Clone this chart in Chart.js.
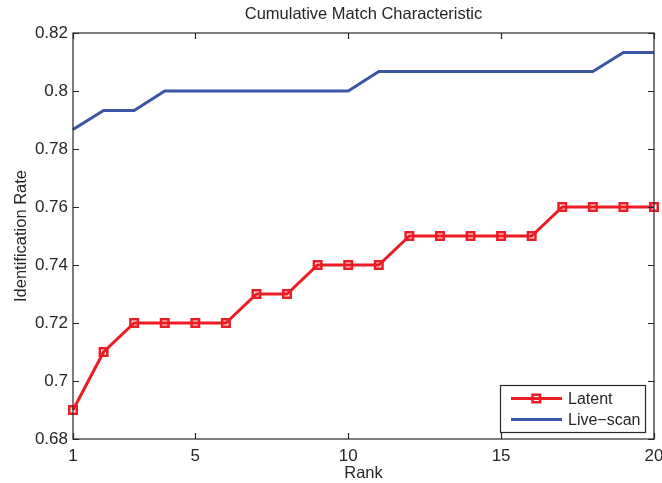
<!DOCTYPE html>
<html><head><meta charset="utf-8">
<script src="https://cdn.jsdelivr.net/npm/chart.js@4/dist/chart.umd.min.js"></script>
<style>html,body{margin:0;padding:0;background:#fff}#wrap{width:662px;height:483px;position:relative}</style>
</head><body><div id="wrap"><canvas id="c" width="662" height="483"></canvas></div>
<script>
const ranks = [1,2,3,4,5,6,7,8,9,10,11,12,13,14,15,16,17,18,19,20];
const latent = [0.69,0.71,0.72,0.72,0.72,0.72,0.73,0.73,0.74,0.74,0.74,0.75,0.75,0.75,0.75,0.75,0.76,0.76,0.76,0.76];
const liveScan = [0.7867,0.7933,0.7933,0.80,0.80,0.80,0.80,0.80,0.80,0.80,0.8067,0.8067,0.8067,0.8067,0.8067,0.8067,0.8067,0.8067,0.8133,0.8133];
const xTicks = [1,5,10,15,20];
const yTicks = [0.68,0.70,0.72,0.74,0.76,0.78,0.80,0.82];
const yTickLabels = ['0.68','0.7','0.72','0.74','0.76','0.78','0.8','0.82'];
const seriesNames = ['Latent','Live\u2212scan'];
const titleText = 'Cumulative Match Characteristic';
const xTitle = 'Rank';
const yTitle = 'Identification Rate';

const RED = '#ec1c24', BLUE = '#3a55a4', AX = '#262626';
const FONT = '"Liberation Sans", Arial, Helvetica, sans-serif';

const boxPlugin = {
  id: 'boxPlugin',
  afterDatasetsDraw(chart) {
    const ctx = chart.ctx, a = chart.chartArea;
    const xs = chart.scales.x, ys = chart.scales.y;
    ctx.save();
    ctx.strokeStyle = AX; ctx.lineWidth = 1.2;
    ctx.strokeRect(a.left, a.top, a.right - a.left, a.bottom - a.top);
    ctx.beginPath();
    const tl = 6;
    xTicks.forEach(v => { const px = Math.round(xs.getPixelForValue(v)) + 0.5;
      ctx.moveTo(px, a.bottom); ctx.lineTo(px, a.bottom - tl);
      ctx.moveTo(px, a.top); ctx.lineTo(px, a.top + tl); });
    yTicks.forEach(v => { const py = Math.round(ys.getPixelForValue(v)) + 0.5;
      ctx.moveTo(a.left, py); ctx.lineTo(a.left + tl, py);
      ctx.moveTo(a.right, py); ctx.lineTo(a.right - tl, py); });
    ctx.stroke();
    // title
    ctx.fillStyle = AX; ctx.font = '16.5px ' + FONT;
    ctx.textAlign = 'center'; ctx.textBaseline = 'middle';
    ctx.fillText(titleText, (a.left + a.right) / 2, 14);
    // legend
    const lx = a.right - 154, ly = a.bottom - 54, lw = 145, lh = 47;
    ctx.fillStyle = '#fff'; ctx.fillRect(lx, ly, lw, lh);
    ctx.strokeStyle = AX; ctx.lineWidth = 1.2; ctx.strokeRect(lx + 0.5, ly + 0.5, lw, lh);
    const rows = [[RED, true, ly + 13.5], [BLUE, false, ly + 34.5]];
    rows.forEach((r, i) => {
      ctx.strokeStyle = r[0]; ctx.lineWidth = 3;
      ctx.beginPath(); ctx.moveTo(lx + 11, r[2]); ctx.lineTo(lx + 62, r[2]); ctx.stroke();
      if (r[1]) { ctx.lineWidth = 2.5;
        ctx.strokeRect(lx + 32.5, r[2] - 3.75, 7.5, 7.5); }
      ctx.fillStyle = AX; ctx.font = '16px ' + FONT; ctx.textAlign = 'left'; ctx.textBaseline = 'middle';
      ctx.fillText(seriesNames[i], lx + 68, r[2] + 1);
    });
    ctx.restore();
  }
};

new Chart(document.getElementById('c'), {
  type: 'line',
  data: {
    datasets: [
      { label: seriesNames[0], data: ranks.map((r, i) => ({x: r, y: latent[i]})),
        borderColor: RED, borderWidth: 3, pointStyle: 'rect', pointRadius: 5.3, pointHoverRadius: 5.3,
        pointBorderWidth: 2.5, pointBackgroundColor: 'rgba(0,0,0,0)', pointBorderColor: RED, clip: false, tension: 0 },
      { label: seriesNames[1], data: ranks.map((r, i) => ({x: r, y: liveScan[i]})),
        borderColor: BLUE, borderWidth: 3, pointRadius: 0, clip: false, tension: 0 }
    ]
  },
  options: {
    responsive: false, animation: false, devicePixelRatio: 1,
    layout: { padding: { top: 33, right: 8, left: 0, bottom: 0 } },
    plugins: { legend: { display: false }, title: { display: false }, tooltip: { enabled: false } },
    scales: {
      x: { type: 'linear', min: 1, max: 20,
        afterBuildTicks: s => { s.ticks = xTicks.map(v => ({value: v})); },
        afterFit: s => { s.height = 44; s.paddingLeft = 0; s.paddingRight = 0; },
        grid: { display: false, drawTicks: false }, border: { display: false },
        ticks: { color: AX, font: { size: 17, family: FONT }, padding: 7, maxRotation: 0, autoSkip: false },
        title: { display: true, text: xTitle, color: AX, font: { size: 16.5, family: FONT }, padding: { top: 0, bottom: 0 } } },
      y: { type: 'linear', min: 0.68, max: 0.82,
        afterBuildTicks: s => { s.ticks = yTicks.map(v => ({value: v})); },
        afterFit: s => { s.width = 73; s.paddingTop = 0; s.paddingBottom = 0; },
        grid: { display: false, drawTicks: false }, border: { display: false },
        ticks: { color: AX, font: { size: 17, family: FONT }, padding: 5, autoSkip: false,
          callback: (v) => { const i = yTicks.findIndex(t => Math.abs(t - v) < 1e-9); return i >= 0 ? yTickLabels[i] : ''; } },
        title: { display: true, text: yTitle, color: AX, font: { size: 16.5, family: FONT }, padding: { top: 12, bottom: 4 } } }
    }
  },
  plugins: [boxPlugin]
});
</script></body></html>
